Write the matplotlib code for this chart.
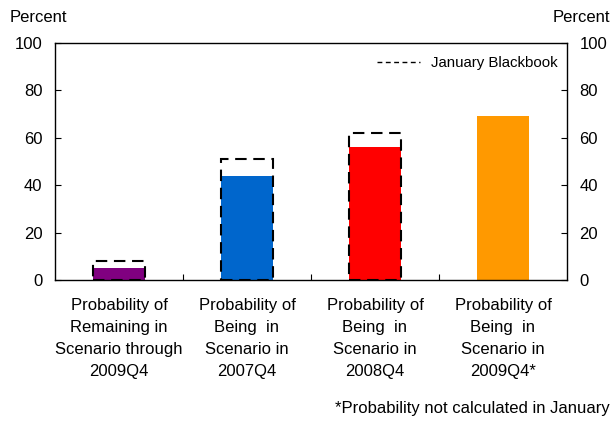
import matplotlib
matplotlib.use("Agg")
import matplotlib.pyplot as plt
from matplotlib.lines import Line2D
import numpy as np

plt.rcParams['font.family'] = ['Liberation Sans', 'DejaVu Sans']

categories = [
    "Probability of\nRemaining in\nScenario through\n2009Q4",
    "Probability of\nBeing  in\nScenario in\n2007Q4",
    "Probability of\nBeing  in\nScenario in\n2008Q4",
    "Probability of\nBeing  in\nScenario in\n2009Q4*",
]
current = [5, 44, 56, 69]
january = [8, 51, 62, None]
bar_colors = ["#800080", "#0066CC", "#FF0000", "#FF9900"]
yticks = [0, 20, 40, 60, 80, 100]

fig = plt.figure(figsize=(6.12, 4.22), dpi=100)
ax = fig.add_axes([55 / 612, 1 - 280 / 422, 512 / 612, 237 / 422])

x = np.arange(len(categories))
width = 0.4
ax.bar(x, current, width=width, color=bar_colors, zorder=2)

jx = [xi for xi, v in zip(x, january) if v is not None]
jv = [v for v in january if v is not None]
ax.bar(jx, jv, width=width, fill=False, edgecolor="black", linewidth=1.5,
       linestyle=(0, (5.5, 3.2)), zorder=3)

ax.set_xlim(-0.5, len(categories) - 0.5)
ax.set_ylim(0, 100)
ax.set_yticks(yticks)
ax.tick_params(axis='y', direction='in', length=4, labelsize=12, width=0.8,
               left=True, right=True, labelleft=True, labelright=True, pad=9)
ax.set_xticks(x[:-1] + 0.5)
ax.set_xticklabels([])
ax.tick_params(axis='x', direction='in', length=4, width=0.8)
for s in ax.spines.values():
    s.set_linewidth(1.0)

for xi, lab in zip(x, categories):
    ax.text(xi, -7.5, lab, ha='center', va='top', fontsize=12,
            linespacing=1.58, transform=ax.transData, clip_on=False)

handle = Line2D([0], [0], color='black', linewidth=1.0, linestyle=(0, (3.5, 2.5)))
ax.legend([handle], ["January Blackbook"], loc='upper right', frameon=False,
          fontsize=10.8, handlelength=2.9, handletextpad=0.7,
          bbox_to_anchor=(1.008, 1.0))

fig.text(10 / 612, 1 - 17 / 422, "Percent", ha='left', va='center', fontsize=12)
fig.text(610 / 612, 1 - 17 / 422, "Percent", ha='right', va='center', fontsize=12)
fig.text(610 / 612, 1 - 409 / 422, "*Probability not calculated in January",
         ha='right', va='center', fontsize=12)

fig.savefig("out.png", dpi=100)
